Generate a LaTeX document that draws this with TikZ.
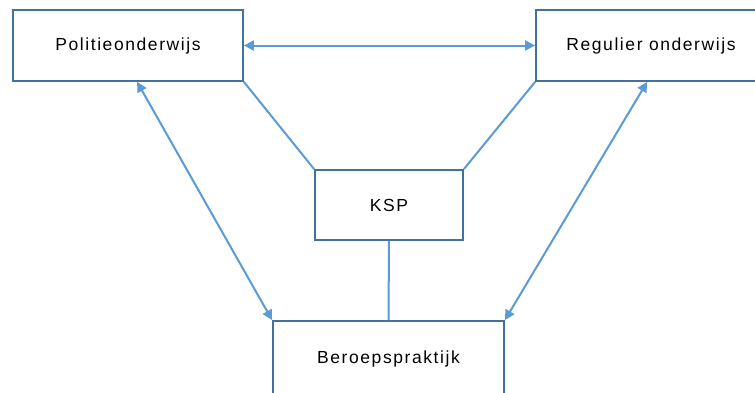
\documentclass[tikz,border=0pt]{standalone}
\usepackage{fontspec}
\setmainfont{Liberation Sans}
\newfontfamily\boxfont[LetterSpace=9]{Liberation Sans}
\usetikzlibrary{arrows.meta}
\definecolor{boxline}{HTML}{41719C}
\definecolor{linkline}{HTML}{5B9BD5}
\tikzset{
  blockbox/.style={draw=boxline, line width=1.8pt, fill=white, rectangle,
    inner sep=0pt, font=\boxfont\fontsize{17.5}{20}\selectfont},
  link/.style={draw=linkline, line width=2pt},
  twoway/.style={link, {Triangle[length=10pt,width=10pt]}-{Triangle[length=10pt,width=10pt]}},
}
\begin{document}
\begin{tikzpicture}[x=1pt,y=-1pt]
  \clip (0,0) rectangle (755,392);
  \fill[white] (0,0) rectangle (755,392);

  % blocks
  \node[blockbox, minimum width=230pt, minimum height=71pt] (pol) at (128,45.5) {Politieonderwijs};
  \node[blockbox, minimum width=230pt, minimum height=71pt] (reg) at (651,45.5) {Regulier onderwijs};
  \node[blockbox, minimum width=148pt, minimum height=70pt] (ksp) at (389,205) {KSP};
  \node[blockbox, minimum width=231pt, minimum height=76pt] (ber) at (388.5,359) {Beroepspraktijk};

  % arrow ends on the lower edges of the top blocks
  \coordinate (polfoot) at ([xshift=125pt]pol.south west);
  \coordinate (regfoot) at ([xshift=112pt]reg.south west);

  % connectors
  \draw[twoway] (pol.east) -- (reg.west);
  \draw[link] (pol.south east) -- (ksp.north west);
  \draw[link] (reg.south west) -- (ksp.north east);
  \draw[link] (ksp.south) -- (ber.north);
  \draw[twoway] (polfoot) -- (ber.north west);
  \draw[twoway] (regfoot) -- (ber.north east);
\end{tikzpicture}
\end{document}
